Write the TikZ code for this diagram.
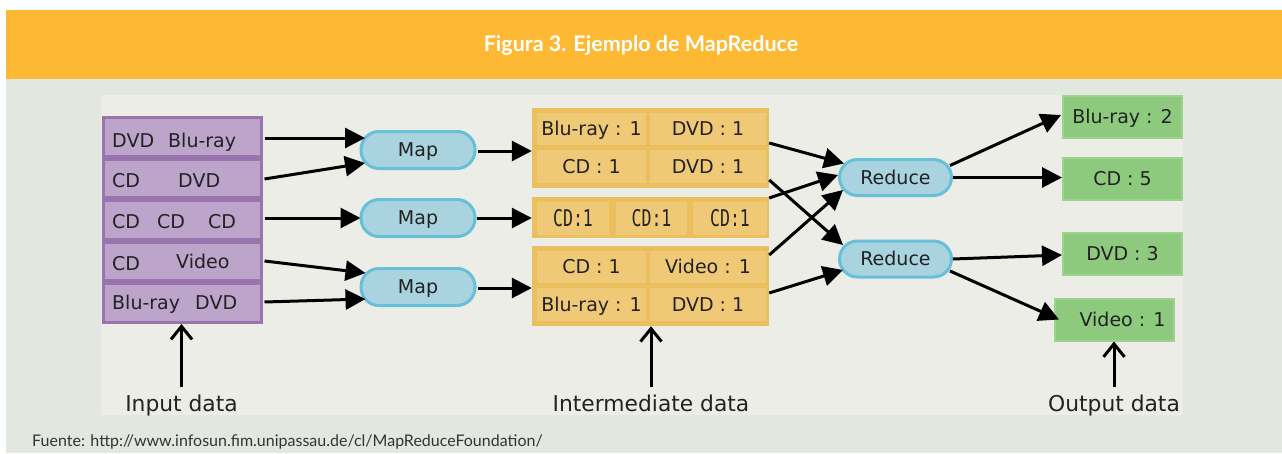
\documentclass[tikz,border=0pt]{standalone}
\usepackage{fontspec}
\setmainfont{DejaVu Sans}
\newfontfamily\titlefont{Lato}
\newfontfamily\condmono[FakeStretch=0.72]{DejaVu Sans Mono}
\usetikzlibrary{arrows.meta,calc}
\definecolor{band}{HTML}{FDB933}
\definecolor{bg}{HTML}{E2E7E0}
\definecolor{panel}{HTML}{EDEDE8}
\definecolor{pframe}{HTML}{9A74AE}
\definecolor{pcell}{HTML}{BCA4CA}
\definecolor{bfill}{HTML}{A9D4DF}
\definecolor{bborder}{HTML}{67BFD8}
\definecolor{oframe}{HTML}{EBBE5E}
\definecolor{ocell}{HTML}{F0C977}
\definecolor{gfill}{HTML}{8DCA7D}
\definecolor{gborder}{HTML}{9CD48D}
\definecolor{txtc}{HTML}{222222}
\definecolor{srcc}{HTML}{333333}
\tikzset{
  txt/.style={font=\fontsize{19}{22}\selectfont, text=txtc, inner sep=0pt},
  cellP/.style={draw=pframe, fill=pcell, line width=3pt, minimum width=158pt, minimum height=38.6pt, inner sep=0pt},
  pill/.style={draw=bborder, fill=bfill, line width=3pt, rounded corners=18pt, minimum width=114pt, minimum height=37pt, inner sep=0pt, font=\fontsize{19}{22}\selectfont, text=txtc, text height=13.9pt, text depth=0pt},
  iframe/.style={fill=oframe, minimum width=237pt, inner sep=0pt},
  icell/.style={fill=ocell, inner sep=0pt, font=\fontsize{19}{22}\selectfont, text=txtc, text height=13.9pt, text depth=0pt},
  mcell/.style={fill=ocell, inner sep=0pt, minimum height=33pt, font=\condmono\fontsize{23}{25}\selectfont, text=txtc, text height=16.8pt, text depth=0pt},
  outbox/.style={fill=gfill, draw=gborder, line width=2pt, minimum width=119pt, minimum height=42pt, inner sep=0pt, font=\fontsize{19}{22}\selectfont, text=txtc, text height=13.9pt, text depth=0pt},
  lbl/.style={font=\fontsize{21.8}{24}\selectfont, text=txtc, inner sep=0pt, anchor=base},
  arr/.style={line width=3pt, draw=black, -{Triangle[length=20pt,width=20pt]}},
  uparr/.style={line width=3pt, draw=black, -{Straight Barb[length=13pt,width=21pt]}}
}
\begin{document}
\begin{tikzpicture}[x=1pt,y=-1pt]
\useasboundingbox (0,0) rectangle (1282,453);
\fill[white] (0,0) rectangle (1282,453);
\fill[bg] (6,79) rectangle (1282,453);
\fill[band] (6,10) rectangle (1282,79);
\fill[panel] (101,95) rectangle (1183,415);
\node[font=\titlefont\bfseries\fontsize{21.5}{24}\selectfont, text=white, inner sep=0pt] (title) at (641,45) {Figura 3. Ejemplo de MapReduce};
\node[anchor=base west, font=\titlefont\fontsize{16}{18}\selectfont, text=srcc, inner sep=0pt] (src) at (32,446) {Fuente: http://www.infosun.fim.unipassau.de/cl/MapReduceFoundation/};

% input data
\node[cellP] (r1) at (182.5,136.8) {};
\node[cellP] (r2) at (182.5,178.4) {};
\node[cellP] (r3) at (182.5,220.0) {};
\node[cellP] (r4) at (182.5,261.6) {};
\node[cellP] (r5) at (182.5,303.2) {};
\node[txt, anchor=base west] (r1a) at (112,147) {DVD};
\node[txt, anchor=base west] (r1b) at (168,147) {Blu-ray};
\node[txt, anchor=base west] (r2a) at (112,187) {CD};
\node[txt, anchor=base west] (r2b) at (178,187) {DVD};
\node[txt, anchor=base west] (r3a) at (112,228) {CD};
\node[txt, anchor=base west] (r3b) at (157,228) {CD};
\node[txt, anchor=base west] (r3c) at (208,228) {CD};
\node[txt, anchor=base west] (r4a) at (112,270) {CD};
\node[txt, anchor=base west] (r4b) at (176,268) {Video};
\node[txt, anchor=base west] (r5a) at (112,309) {Blu-ray};
\node[txt, anchor=base west] (r5b) at (195,309) {DVD};

% map
\node[pill] (map1) at (418,150) {Map};
\node[pill] (map2) at (418,218) {Map};
\node[pill] (map3) at (418,287) {Map};

% intermediate
\node[iframe, minimum height=80pt] (ib1) at (650.5,148) {};
\node[icell, minimum width=109pt, minimum height=32pt] (c11) at (591.5,129) {Blu-ray : 1};
\node[icell, minimum width=116pt, minimum height=32pt] (c12) at (708,129) {DVD : 1};
\node[icell, minimum width=109pt, minimum height=33pt] (c21) at (591.5,166.5) {CD : 1};
\node[icell, minimum width=116pt, minimum height=33pt] (c22) at (708,166.5) {DVD : 1};

\node[iframe, minimum height=41pt] (ib2) at (650.5,217.5) {};
\node[mcell, minimum width=72pt] (m1) at (573,218.5) {CD:1};
\node[mcell, minimum width=71pt] (m2) at (651.5,218.5) {CD:1};
\node[mcell, minimum width=74pt] (m3) at (730,218.5) {CD:1};

\node[iframe, minimum height=80pt] (ib3) at (650.5,286) {};
\node[icell, minimum width=109pt, minimum height=32pt] (d11) at (591.5,267) {CD : 1};
\node[icell, minimum width=116pt, minimum height=32pt] (d12) at (708,267) {Video : 1};
\node[icell, minimum width=109pt, minimum height=33pt] (d21) at (591.5,304.5) {Blu-ray : 1};
\node[icell, minimum width=116pt, minimum height=33pt] (d22) at (708,304.5) {DVD : 1};

% reduce
\node[pill, minimum width=112pt, minimum height=36pt] (red1) at (895.5,177.5) {Reduce};
\node[pill, minimum width=112pt, minimum height=36pt] (red2) at (895.5,259) {Reduce};

% output
\node[outbox] (o1) at (1122.5,117) {Blu-ray : 2};
\node[outbox] (o2) at (1122.5,179) {CD : 5};
\node[outbox] (o3) at (1122.5,254) {DVD : 3};
\node[outbox] (o4) at (1114.5,319.5) {\hspace*{16pt}Video : 1};

% labels
\node[lbl] (inlab) at (181.5,411) {Input data};
\node[lbl] (midlab) at (651,411) {Intermediate data};
\node[lbl] (outlab) at (1114,411) {Output data};

% arrows input -> map
\draw[arr] ($(r1.east)+(1.5,1.2)$) -- ($(map1.west)+(5.5,-12)$);
\draw[arr] ($(r2.east)+(1.5,0.6)$) -- ($(map1.west)+(5.5,13)$);
\draw[arr] ($(r3.east)+(1.5,-2)$) -- ($(map2.west)+(1,0)$);
\draw[arr] ($(r4.east)+(1.5,-0.6)$) -- ($(map3.west)+(6,-14)$);
\draw[arr] ($(r5.east)+(1.5,-1.2)$) -- ($(map3.west)+(6,12)$);
% map -> intermediate
\draw[arr] ($(map1.east)+(1.5,1)$) -- ($(ib1.west)+(0,3)$);
\draw[arr] (map2.east) -- (map2.east -| ib2.west);
\draw[arr] ($(map3.east)+(1.5,1)$) -- ($(ib3.west)+(0,2)$);
% intermediate -> reduce
\draw[arr] ($(ib1.east)+(0,-5)$) -- ($(red1.west)+(6,-14)$);
\draw[arr] ($(ib1.east)+(0,32)$) -- ($(red2.west)+(5,-14)$);
\draw[arr] ($(ib2.east)+(0,-19.5)$) -- ($(red1.west)+(0,-2.5)$);
\draw[arr] ($(ib3.east)+(0,-31)$) -- ($(red1.west)+(5,12.5)$);
\draw[arr] ($(ib3.east)+(0,7)$) -- ($(red2.west)+(5,11)$);
% reduce -> output
\draw[arr] ($(red1.east)+(-3,-12)$) -- ($(o1.west)+(-1,-2)$);
\draw[arr] (red1.east) -- (red1.east -| o2.west);
\draw[arr] (red2.east) -- ($(o3.west)+(0,1)$);
\draw[arr] ($(red2.east)+(-3,12)$) -- ($(o4.west)+(5,0)$);
% label arrows
\draw[uparr] ([yshift=7pt]inlab.north) -- (inlab.north |- r5.south);
\draw[uparr] ([yshift=7pt]midlab.north) -- (midlab.north |- ib3.south);
\draw[uparr] ([yshift=7pt]outlab.north) -- (outlab.north |- o4.south);
\end{tikzpicture}
\end{document}
